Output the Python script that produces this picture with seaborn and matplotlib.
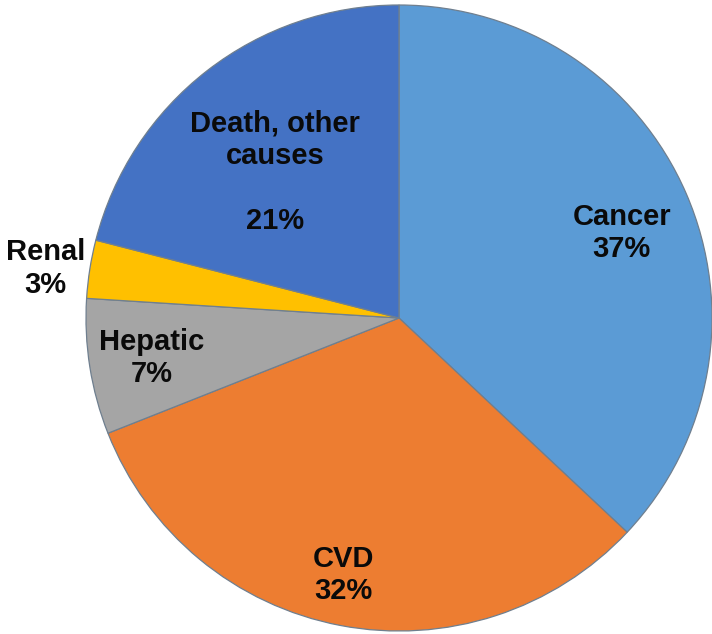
import numpy as np
import matplotlib
matplotlib.use("Agg")
import matplotlib.pyplot as plt
import seaborn as sns

sns.set_theme(style="white")
plt.rcParams['font.family'] = ['Liberation Sans', 'DejaVu Sans']

categories = ["Cancer", "CVD", "Hepatic", "Renal", "Death, other\ncauses\n"]
shares = [37, 32, 7, 3, 21]
colors = ["#5B9BD5", "#ED7D31", "#A5A5A5", "#FFC000", "#4472C4"]
# radial placement of each label (fraction of radius) and small angular nudge (deg)
label_radius = [0.762, 0.840, 0.80, 1.14, 0.61]
label_nudge = [-2.5, -1.5, 0.2, 1.0, 2.6]

fig = plt.figure(figsize=(7.12, 6.34), dpi=100)
ax = fig.add_axes([0, 0, 1, 1])

wedges, _ = ax.pie(shares, colors=colors, startangle=90, counterclock=False,
                   radius=1.0,
                   wedgeprops=dict(edgecolor="#6f7f8f", linewidth=0.9))

for w, cat, val, r, nudge in zip(wedges, categories, shares, label_radius, label_nudge):
    mid = np.deg2rad((w.theta1 + w.theta2) / 2 + nudge)
    ax.text(r * np.cos(mid), r * np.sin(mid), f"{cat}\n{val}%",
            ha="center", va="center", fontsize=21, fontweight="bold",
            color="#0a0a0a", linespacing=1.2)

ax.set_xlim(-399 / 313, (712 - 399) / 313)
ax.set_ylim(-316 / 313, 318 / 313)
ax.set_aspect("equal")
ax.axis("off")

fig.savefig("out.png", dpi=100, facecolor="white")
